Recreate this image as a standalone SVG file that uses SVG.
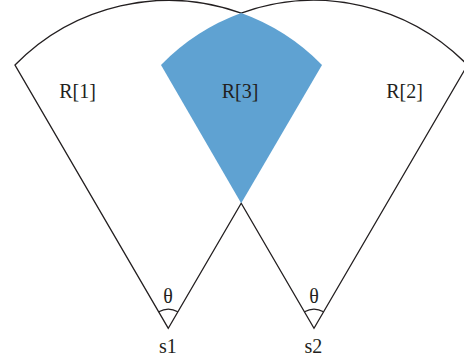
<svg xmlns="http://www.w3.org/2000/svg" width="464" height="362" viewBox="0 0 464 362">
<style>
.ln{fill:none;stroke:#231f20;stroke-width:1.3;stroke-linejoin:miter}
.tx{font-family:"Liberation Serif","DejaVu Serif",serif;font-size:20px;fill:#231f20;text-anchor:middle}
</style>
<rect width="464" height="362" fill="#ffffff"/>
<g id="outline">
<path class="ln" d="M168.3,328.3 L15,65 A214.6,214.6 0 0 1 241.2,13.1 A214.6,214.6 0 0 1 467.5,65 L314,328.3 L241.2,203.2 Z"/>
</g>
<g id="region3">
<path d="M241.2,203.2 L322,65 A214.6,214.6 0 0 0 241.2,13.1 A214.6,214.6 0 0 0 161,65 Z" fill="#5fa2d2"/>
</g>
<g id="angles">
<path class="ln" d="M158.8,311.8 A19,19 0 0 1 177.8,311.8"/>
<path class="ln" d="M304.5,311.8 A19,19 0 0 1 323.5,311.8"/>
</g>
<g id="labels">
<text class="tx" x="77.5" y="98">R[1]</text>
<text class="tx" x="240" y="98">R[3]</text>
<text class="tx" x="404.6" y="98">R[2]</text>
<text class="tx" x="168" y="303">θ</text>
<text class="tx" x="314" y="303">θ</text>
<text class="tx" x="167.8" y="353">s1</text>
<text class="tx" x="313.4" y="353">s2</text>
</g>
</svg>
